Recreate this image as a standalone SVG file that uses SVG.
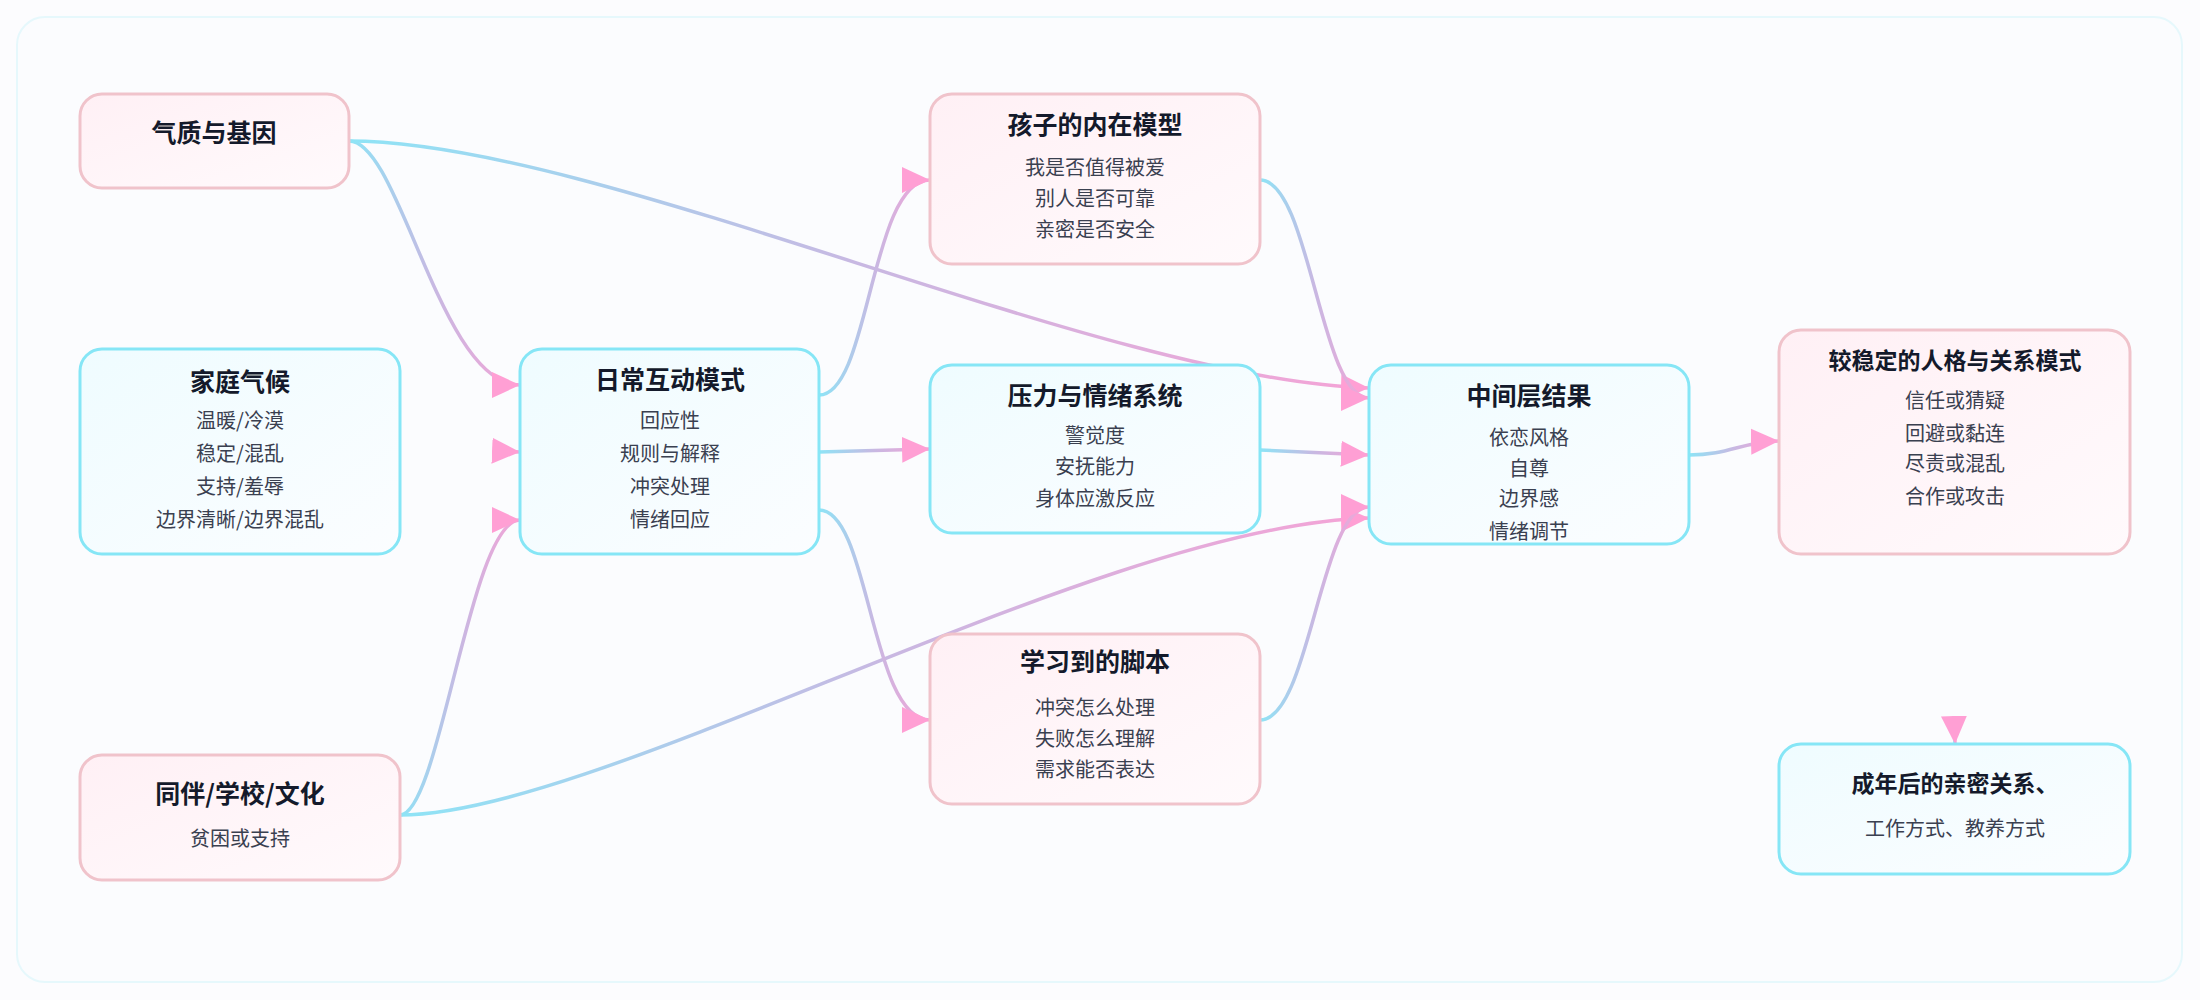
<svg xmlns="http://www.w3.org/2000/svg" width="2200" height="1000" viewBox="0 0 2200 1000">
<defs>
<linearGradient id="gp" x1="0" y1="0" x2="1" y2="1"><stop offset="0" stop-color="#fff0f5"/><stop offset="1" stop-color="#fffafc"/></linearGradient>
<linearGradient id="gc" x1="0" y1="0" x2="1" y2="1"><stop offset="0" stop-color="#effcff"/><stop offset="1" stop-color="#fbfdff"/></linearGradient>
<linearGradient id="ge" x1="0" y1="0" x2="1" y2="0"><stop offset="0" stop-color="#8ee4f6"/><stop offset="0.5" stop-color="#c8b8e2"/><stop offset="1" stop-color="#f5a3d6"/></linearGradient>
<marker id="ah" markerUnits="userSpaceOnUse" markerWidth="30" markerHeight="30" viewBox="0 0 30 30" refX="28" refY="15" orient="auto"><path d="M0,2 L28,15 L0,28 Z" fill="#ff9fd4"/></marker>
</defs>
<style>
.p{fill:url(#gp);stroke:#f0c3cb;stroke-width:3}
.c{fill:url(#gc);stroke:#86e6f6;stroke-width:3}
.t{font-family:"Noto Sans CJK SC","Noto Sans",sans-serif;font-weight:700;font-size:25px;fill:#141a2b;text-anchor:middle}
.b{font-family:"Noto Sans CJK SC","Noto Sans",sans-serif;font-size:20px;fill:#3a4050;text-anchor:middle}
.e{fill:none;stroke:url(#ge);stroke-width:3.5;marker-end:url(#ah)}
</style>
<rect x="0" y="0" width="2200" height="1000" fill="#fcfcfe"/>
<rect x="17" y="17" width="2165" height="965" rx="28" fill="#fbfcfe" stroke="#e6f8fc" stroke-width="2"/>
<g id="edges">
<path class="e" d="M349,141 C400,141 440,385 520,385"/>
<path class="e" d="M498,451 L520,452"/>
<path class="e" d="M400,815 C440,815 470,520 520,520"/>
<path class="e" d="M400,815 C600,815 1100,525 1369,518"/>
<path class="e" d="M349,141 C600,141 1100,380 1369,388"/>
<path class="e" d="M819,395 C870,395 870,180 930,180"/>
<path class="e" d="M819,452 L930,449"/>
<path class="e" d="M819,510 C870,510 870,720 930,720"/>
<path class="e" d="M1260,180 C1310,180 1320,398 1369,398"/>
<path class="e" d="M1260,450 L1369,455"/>
<path class="e" d="M1260,720 C1310,720 1320,507 1369,507"/>
<path class="e" d="M1689,455 C1730,455 1740,442 1779,441"/>
<path class="e" d="M1954,716 L1955,744"/>
</g>
<g id="n1"><rect class="p" x="80" y="94" width="269" height="94" rx="22"/><text class="t" x="214" y="142">气质与基因</text></g>
<g id="n2"><rect class="c" x="80" y="349" width="320" height="205" rx="22"/><text class="t" x="240" y="391">家庭气候</text>
<text class="b" x="240" y="428">温暖/冷漠</text><text class="b" x="240" y="461">稳定/混乱</text><text class="b" x="240" y="494">支持/羞辱</text><text class="b" x="240" y="527">边界清晰/边界混乱</text></g>
<g id="n3"><rect class="p" x="80" y="755" width="320" height="125" rx="22"/><text class="t" x="240" y="803">同伴/学校/文化</text><text class="b" x="240" y="846">贫困或支持</text></g>
<g id="n4"><rect class="c" x="520" y="349" width="299" height="205" rx="22"/><text class="t" x="670" y="389">日常互动模式</text>
<text class="b" x="670" y="428">回应性</text><text class="b" x="670" y="461">规则与解释</text><text class="b" x="670" y="494">冲突处理</text><text class="b" x="670" y="527">情绪回应</text></g>
<g id="n5"><rect class="p" x="930" y="94" width="330" height="170" rx="22"/><text class="t" x="1095" y="134">孩子的内在模型</text>
<text class="b" x="1095" y="175">我是否值得被爱</text><text class="b" x="1095" y="206">别人是否可靠</text><text class="b" x="1095" y="237">亲密是否安全</text></g>
<g id="n6"><rect class="c" x="930" y="365" width="330" height="168" rx="22"/><text class="t" x="1095" y="405">压力与情绪系统</text>
<text class="b" x="1095" y="443">警觉度</text><text class="b" x="1095" y="474">安抚能力</text><text class="b" x="1095" y="506">身体应激反应</text></g>
<g id="n7"><rect class="p" x="930" y="634" width="330" height="170" rx="22"/><text class="t" x="1095" y="671">学习到的脚本</text>
<text class="b" x="1095" y="715">冲突怎么处理</text><text class="b" x="1095" y="746">失败怎么理解</text><text class="b" x="1095" y="777">需求能否表达</text></g>
<g id="n8"><rect class="c" x="1369" y="365" width="320" height="179" rx="22"/><text class="t" x="1529" y="405">中间层结果</text>
<text class="b" x="1529" y="445">依恋风格</text><text class="b" x="1529" y="476">自尊</text><text class="b" x="1529" y="506">边界感</text><text class="b" x="1529" y="539">情绪调节</text></g>
<g id="n9"><rect class="p" x="1779" y="330" width="351" height="224" rx="22"/><text class="t" x="1955" y="369" style="font-size:23px">较稳定的人格与关系模式</text>
<text class="b" x="1955" y="408">信任或猜疑</text><text class="b" x="1955" y="441">回避或黏连</text><text class="b" x="1955" y="471">尽责或混乱</text><text class="b" x="1955" y="504">合作或攻击</text></g>
<g id="n10"><rect class="c" x="1779" y="744" width="351" height="130" rx="22"/><text class="t" x="1955" y="792" style="font-size:23px">成年后的亲密关系、</text><text class="b" x="1955" y="836">工作方式、教养方式</text></g>
</svg>
